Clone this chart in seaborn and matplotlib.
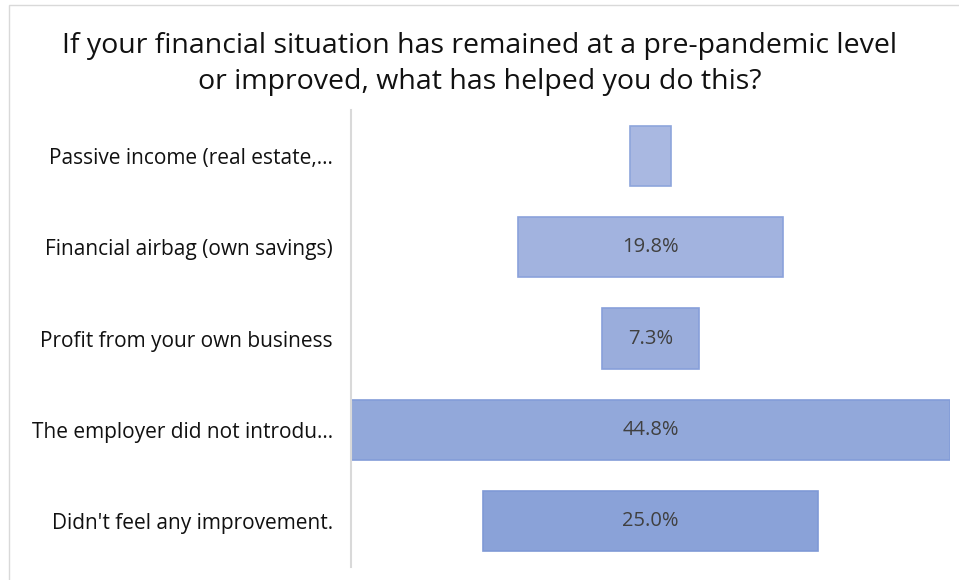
import seaborn as sns
import matplotlib.pyplot as plt
import matplotlib.patches as mpatches
import pandas as pd
import numpy as np

categories = ["Passive income (real estate,...",
              "Financial airbag (own savings)",
              "Profit from your own business",
              "The employer did not introdu...",
              "Didn't feel any improvement."]
shares = [3.1, 19.8, 7.3, 44.8, 25.0]
bar_colors = ["#a9b8e1", "#a2b3df", "#9aaddc", "#92a8da", "#8aa2d8"]
edge_colors = ["#8ea5dc", "#8ba2db", "#879fda", "#839cd8", "#7f99d6"]

sns.set_style("white")
plt.rcParams['font.family'] = ['Open Sans', 'DejaVu Sans']

df = pd.DataFrame({"cat": categories, "share": shares})

fig = plt.figure(figsize=(9.59, 5.80), dpi=100)
ax = fig.add_axes([351 / 959, 1 - 566.6 / 580, (950 - 351) / 959, (566.6 - 110.4) / 580])

sns.barplot(data=df, x="share", y="cat", hue="cat", palette=bar_colors,
            saturation=1, legend=False, width=0.66, ax=ax, linewidth=1.2)

# centre every bar (funnel look)
for i, p in enumerate(ax.patches):
    w = p.get_width()
    p.set_x(-w / 2)
    p.set_edgecolor(edge_colors[i])
    if w > 5:
        ax.text(0, p.get_y() + p.get_height() / 2, f"{w:.1f}%",
                ha="center", va="center", fontsize=14.5, color="#404040")

half = max(shares) / 2
ax.set_xlim(-half, half)
ax.set_ylim(4.5, -0.5)
ax.set_xlabel("")
ax.set_ylabel("")
ax.set_xticks([])
ax.tick_params(axis="y", length=0, pad=13, labelsize=15, labelcolor="#111111")
for s in ["top", "right", "bottom"]:
    ax.spines[s].set_visible(False)
ax.spines["left"].set_color("#d9d9d9")
ax.spines["left"].set_linewidth(1.5)

fig.text(0.5, 1 - 64 / 580, "If your financial situation has remained at a pre-pandemic level\nor improved, what has helped you do this?",
         ha="center", va="center", fontsize=20.5, color="#111111", linespacing=1.38)

# outer chart frame (only left/top visible in the crop)
fig.patches.append(mpatches.Rectangle((9 / 959, -0.1), 1.2, 1 - 5 / 580 + 0.1,
                                      transform=fig.transFigure, fill=False,
                                      edgecolor="#d9d9d9", linewidth=1))

fig.savefig("out.png", dpi=100)
